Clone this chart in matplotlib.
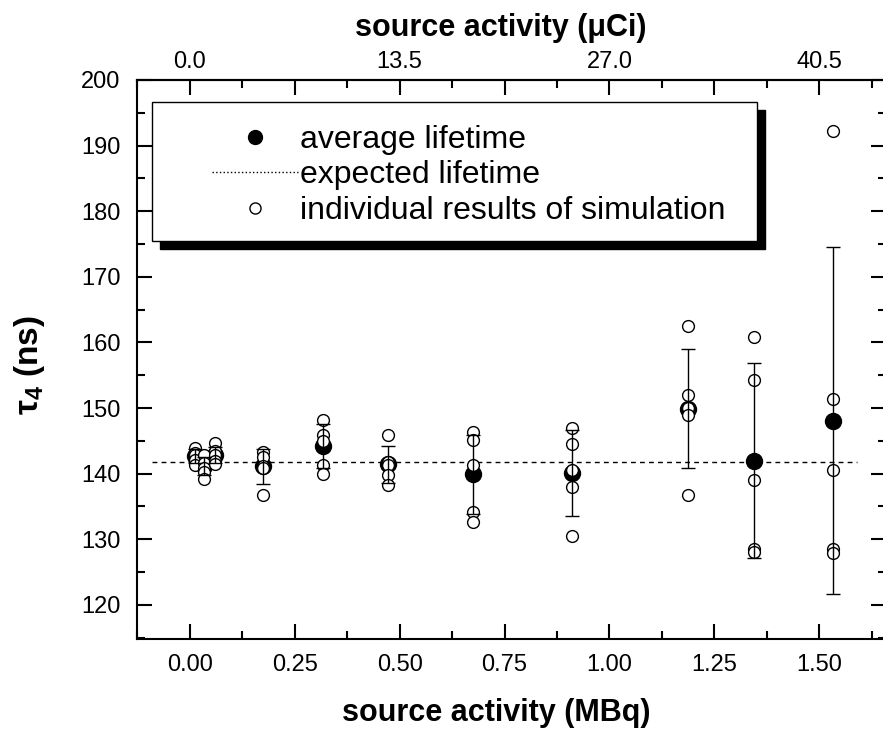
"""
Positron lifetime tau4 against source activity, simulation runs and averages
"""
import numpy as np
import matplotlib
matplotlib.use("Agg")
import matplotlib.pyplot as plt
from matplotlib.lines import Line2D
from matplotlib.patches import Rectangle
from matplotlib.ticker import MultipleLocator

plt.rcParams["font.family"] = ["Liberation Sans", "DejaVu Sans"]
plt.rcParams["mathtext.fontset"] = "custom"
plt.rcParams["mathtext.rm"] = "Liberation Sans"
plt.rcParams["mathtext.bf"] = "Liberation Sans:bold"
plt.rcParams["mathtext.it"] = "Liberation Sans:italic"

# source activity of each simulated series (MBq)
activity = [0.012, 0.034, 0.060, 0.174, 0.317, 0.472, 0.674, 0.910, 1.186, 1.344, 1.532]
# average lifetime and standard deviation (ns)
avg_lifetime = [142.7, 141.2, 142.8, 141.1, 144.2, 141.4, 139.9, 140.1, 149.9, 142.0, 148.1]
avg_err = [1.0, 1.4, 1.2, 2.6, 3.3, 2.85, 6.0, 6.5, 9.1, 14.9, 26.5]
# individual results of simulation (ns), five runs per activity
runs = [
    [143.9, 143.2, 142.8, 142.1, 141.3],
    [142.8, 141.7, 140.9, 140.3, 139.2],
    [144.6, 143.4, 142.8, 142.0, 141.4],
    [143.3, 142.5, 141.2, 140.9, 136.7],
    [148.2, 145.9, 145.0, 141.3, 139.9],
    [145.9, 141.8, 141.3, 139.8, 138.3],
    [146.3, 145.1, 141.3, 134.2, 132.6],
    [147.0, 144.5, 140.5, 138.0, 130.5],
    [162.5, 152.0, 150.0, 149.0, 136.8],
    [160.8, 154.2, 139.0, 128.5, 128.0],
    [192.3, 151.4, 140.5, 128.5, 127.9],
]
expected_lifetime = 141.8

MBQ_TO_UCI = 27.0
top_ticks = [0.0, 6.75, 13.5, 20.25, 27.0, 33.75, 40.5]
top_labels = ["0.0", "", "13.5", "", "27.0", "", "40.5"]

W, H = 883, 735
fig = plt.figure(figsize=(W / 100, H / 100), dpi=100)
ax = fig.add_axes([137 / W, 96 / H, (886 - 137) / W, (639 - 80) / H])

ax.hlines(expected_lifetime, -0.09, 1.59, colors="black", lw=1,
          linestyles=(0, (3.5, 3)), zorder=1)
ax.plot(activity, avg_lifetime, "o", color="black", ms=11.5, zorder=2)
for x, vals in zip(activity, runs):
    ax.plot([x] * len(vals), vals, "o", mfc="white", mec="black", ms=8.5, mew=1, zorder=3)
ax.errorbar(activity, avg_lifetime, yerr=avg_err, fmt="none", ecolor="black",
            elinewidth=1, capsize=5, capthick=1, zorder=4)

ax.set_xlim(-0.126, 1.659)
ax.set_ylim(114.8, 200)
ax.xaxis.set_major_locator(MultipleLocator(0.25))
ax.xaxis.set_minor_locator(MultipleLocator(0.125))
ax.yaxis.set_major_locator(MultipleLocator(10))
ax.yaxis.set_minor_locator(MultipleLocator(5))
ax.xaxis.set_major_formatter(lambda v, p: f"{v:.2f}")
ax.tick_params(which="both", direction="in", right=True, width=1.5, labelsize=17)
ax.tick_params(axis="x", pad=11)
ax.tick_params(axis="y", pad=12)
ax.tick_params(which="major", length=11)
ax.tick_params(which="minor", length=6)
for s in ax.spines.values():
    s.set_linewidth(1.5)

secax = ax.secondary_xaxis("top", functions=(lambda m: m * MBQ_TO_UCI, lambda u: u / MBQ_TO_UCI))
secax.set_xticks(top_ticks, labels=top_labels)
secax.xaxis.set_minor_locator(MultipleLocator(3.375))
secax.tick_params(which="both", direction="in", width=1.5, labelsize=17, pad=5)
secax.tick_params(which="major", length=11)
secax.tick_params(which="minor", length=6)
secax.spines["top"].set_linewidth(1.5)
secax.set_xlabel("source activity (μCi)", fontsize=22, fontweight="bold", labelpad=11, x=0.485)

ax.set_xlabel("source activity (MBq)", fontsize=22, fontweight="bold", labelpad=16, x=0.48)
ax.set_ylabel(r"$\mathbf{\tau_4}$ (ns)", fontsize=24, fontweight="bold")
ax.yaxis.label.set_va("center")
ax.yaxis.set_label_coords(-0.143, 0.49)

# legend box with a solid drop shadow
ax.add_patch(Rectangle((160 / W, 1 - 249 / H), 605 / W, 139 / H, transform=fig.transFigure,
                       fc="black", ec="black", zorder=6, clip_on=False))
ax.add_patch(Rectangle((152 / W, 1 - 241 / H), 605 / W, 139 / H, transform=fig.transFigure,
                       fc="white", ec="black", lw=1, zorder=7, clip_on=False))
handles = [
    Line2D([], [], ls="none", marker="o", color="black", ms=10),
    Line2D([], [], ls=":", color="black", lw=1),
    Line2D([], [], ls="none", marker="o", mfc="white", mec="black", ms=8),
]
names = ["average lifetime", "expected lifetime", "individual results of simulation"]
leg = ax.legend(handles, names, loc="upper left", bbox_to_anchor=(212 / W, 1 - 125 / H),
                bbox_transform=fig.transFigure, frameon=False, fontsize=23,
                handlelength=2.7, handletextpad=0.05, borderpad=0, borderaxespad=0,
                labelspacing=0.17)
leg.set_zorder(8)

fig.savefig("out.png", dpi=100)
